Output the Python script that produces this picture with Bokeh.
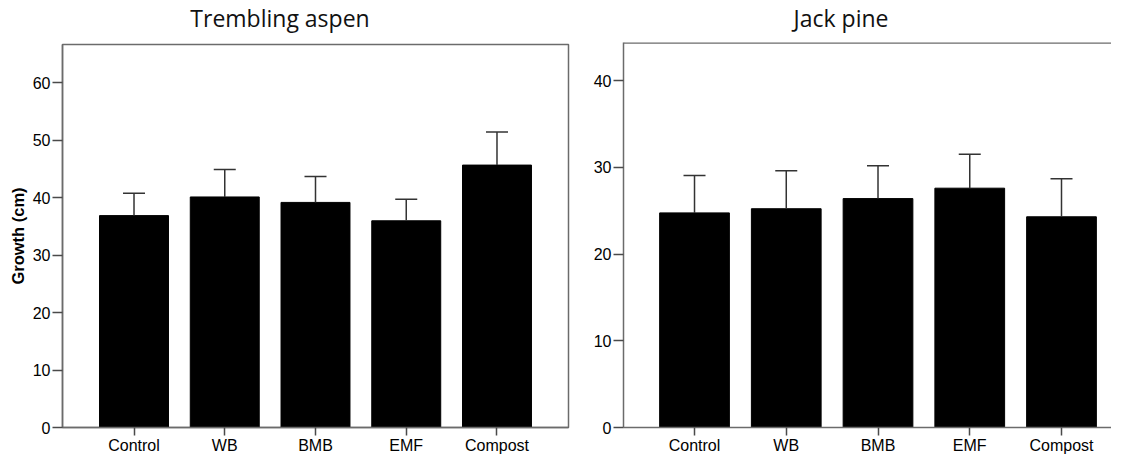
from bokeh.plotting import figure
from bokeh.layouts import row, column
from bokeh.models import (ColumnDataSource, Whisker, TeeHead, FixedTicker,
                          Range1d, Span, Div)
from bokeh.embed import file_html
from bokeh.resources import INLINE

# ---- data ----
categories = ["Control", "WB", "BMB", "EMF", "Compost"]
aspen_mean = [36.9, 40.15, 39.2, 36.0, 45.7]
aspen_upper = [40.8, 44.95, 43.7, 39.75, 51.45]
pine_mean = [24.75, 25.23, 26.4, 27.6, 24.3]
pine_upper = [29.05, 29.6, 30.2, 31.5, 28.7]
aspen_ticks = [0, 10, 20, 30, 40, 50, 60]
pine_ticks = [0, 10, 20, 30, 40]

FRAME = "#6b6b6b"
TICKC = "#4a4a4a"
ERRC = "#333333"
TICKFONT = "Liberation Sans"
TITLEFONT = "Open Sans"
TITLE_H = 36


def make_title(text, width):
    return Div(text=text, width=width, height=TITLE_H, margin=0,
               styles={"font-family": TITLEFONT, "font-size": "23px",
                       "line-height": "36px", "color": "#111111",
                       "text-align": "center", "white-space": "nowrap"})


def make_panel(mean, upper, yticks, yend, xr, width, borders,
               ylabel=None, outline=True):
    xs = list(range(len(categories)))
    src = ColumnDataSource(dict(x=xs, top=mean, lower=mean, upper=upper))
    p = figure(width=width, height=456 - TITLE_H, output_backend="svg",
               toolbar_location=None, x_range=Range1d(*xr),
               y_range=Range1d(0, yend), margin=0,
               min_border_left=borders[0], min_border_right=borders[1],
               min_border_top=borders[2], min_border_bottom=borders[3])
    p.background_fill_color = "white"
    p.border_fill_color = "white"
    p.grid.visible = False
    if outline:
        p.outline_line_color = FRAME
        p.outline_line_width = 1.5
    else:
        p.outline_line_color = None
        p.add_layout(Span(location=yend, dimension="width",
                          line_color=FRAME, line_width=2.5))

    p.vbar(x="x", top="top", width=0.76, source=src,
           fill_color="black", line_color="black")
    p.add_layout(Whisker(base="x", lower="lower", upper="upper", source=src,
                         lower_head=None,
                         upper_head=TeeHead(size=22, line_color=ERRC,
                                            line_width=1.5),
                         line_color=ERRC, line_width=1.5, level="overlay"))

    xa = p.xaxis[0]
    xa.ticker = FixedTicker(ticks=xs)
    xa.major_label_overrides = {i: c for i, c in enumerate(categories)}
    xa.minor_tick_line_color = None
    xa.major_tick_in = 0
    xa.major_tick_out = 8
    xa.major_label_standoff = 1
    xa.axis_line_color = FRAME
    xa.axis_line_width = 1.5
    xa.major_tick_line_color = TICKC
    xa.major_tick_line_width = 1.5
    xa.major_label_text_font = TICKFONT
    xa.major_label_text_font_size = "16px"
    xa.major_label_text_color = "black"

    ya = p.yaxis[0]
    ya.ticker = FixedTicker(ticks=yticks)
    ya.minor_tick_line_color = None
    ya.major_tick_in = 0
    ya.major_tick_out = 10
    ya.major_label_standoff = 2
    ya.axis_line_color = FRAME
    ya.axis_line_width = 1.5
    ya.major_tick_line_color = TICKC
    ya.major_tick_line_width = 1.5
    ya.major_label_text_font = TICKFONT
    ya.major_label_text_font_size = "16px"
    ya.major_label_text_color = "black"
    if ylabel:
        ya.axis_label = ylabel
        ya.axis_label_text_font = TICKFONT
        ya.axis_label_text_font_style = "bold"
        ya.axis_label_text_font_size = "16.5px"
        ya.axis_label_text_color = "black"
        ya.axis_label_standoff = 3
    return p


p1 = make_panel(aspen_mean, aspen_upper, aspen_ticks, 66.7,
                (-0.788, 4.788), 580, (62, 12, 8, 27),
                ylabel="Growth (cm)", outline=True)
p2 = make_panel(pine_mean, pine_upper, pine_ticks, 44.4,
                (-0.774, 4.545), 531, (43, 0, 6, 27), outline=False)

t1 = make_title("Trembling aspen", 560)
t2 = make_title("Jack pine", 522)

layout = row(column(t1, p1, spacing=0), column(t2, p2, spacing=0), spacing=0)
open("out.html", "w").write(file_html(layout, INLINE))
